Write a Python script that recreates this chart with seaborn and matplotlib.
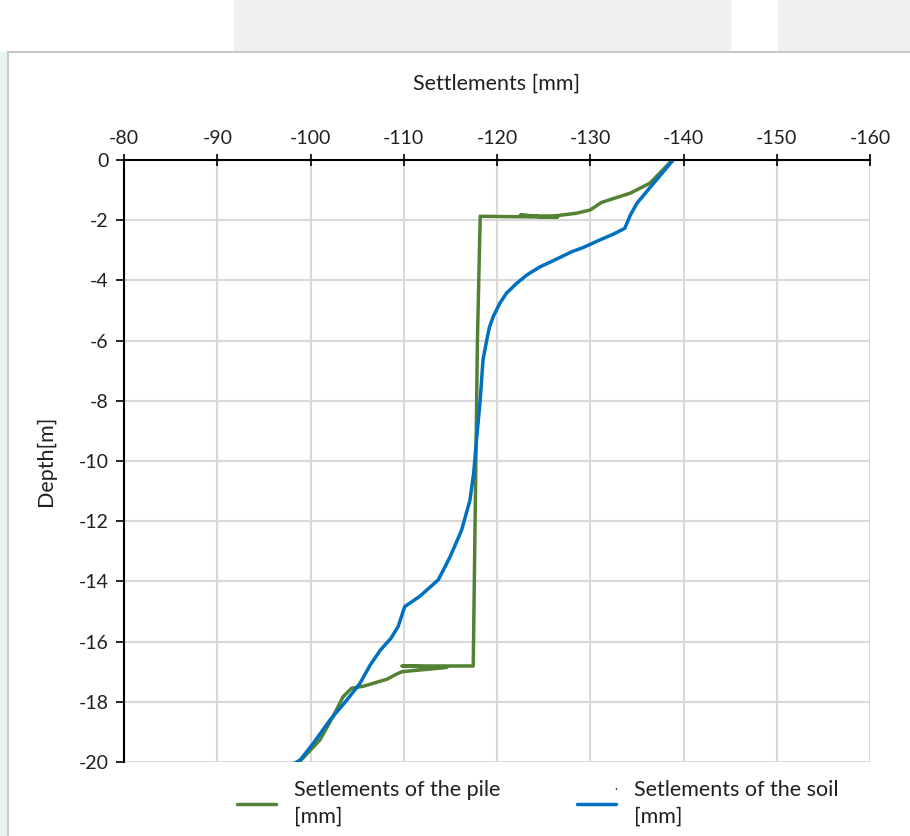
import numpy as np
import pandas as pd
import matplotlib
matplotlib.use("Agg")
import matplotlib.pyplot as plt
from matplotlib.patches import Rectangle
import seaborn as sns

# ---- data ----
pile_settlement = [-138.8, -136.4, -134.3, -131.2, -130.0, -128.5, -126.4, -124.6, -122.5,
                   -126.5, -118.2, -117.9, -117.45, -109.8, -114.6, -109.8, -109.1, -108.2,
                   -105.7, -104.4, -103.5, -102.4, -101.0, -99.2, -98.6]
pile_depth = [0.0, -0.77, -1.10, -1.41, -1.66, -1.77, -1.85, -1.88, -1.83,
              -1.90, -1.87, -6.0, -16.81, -16.81, -16.86, -17.0, -17.1, -17.25,
              -17.48, -17.55, -17.83, -18.5, -19.27, -19.87, -20.05]

soil_settlement = [-138.9, -136.8, -135.0, -134.3, -133.7, -132.5, -131.0, -129.3, -128.0,
                   -126.0, -124.6, -123.2, -122.1, -121.0, -120.3, -119.6, -119.2, -118.9,
                   -118.5, -118.2, -117.8, -117.5, -117.1, -116.2, -114.96, -113.7, -111.7,
                   -110.1, -109.4, -108.6, -107.5, -106.4, -105.3, -103.9, -102.1, -100.3,
                   -98.9, -98.3]
soil_depth = [0.0, -0.77, -1.44, -1.83, -2.27, -2.46, -2.66, -2.90, -3.05,
              -3.35, -3.55, -3.82, -4.10, -4.43, -4.76, -5.20, -5.54, -5.98,
              -6.64, -7.97, -9.30, -10.4, -11.3, -12.3, -13.19, -13.95, -14.5,
              -14.84, -15.5, -15.9, -16.28, -16.78, -17.39, -17.94, -18.6, -19.38,
              -19.93, -20.04]

x_ticks = [-80, -90, -100, -110, -120, -130, -140, -150, -160]
y_ticks = [0, -2, -4, -6, -8, -10, -12, -14, -16, -18, -20]
series_names = ["Setlements of the pile\n[mm]", "Setlements of the soil\n[mm]"]
series_colors = ["#548235", "#0070C0"]

df = pd.concat([
    pd.DataFrame({"s": pile_settlement, "d": pile_depth, "series": series_names[0]}),
    pd.DataFrame({"s": soil_settlement, "d": soil_depth, "series": series_names[1]}),
], ignore_index=True)

sns.set_theme(style="white")
plt.rcParams["font.family"] = ["Lato", "DejaVu Sans"]

fig = plt.figure(figsize=(9.10, 8.36), dpi=100)

# background screenshot hints
fig.patches.append(Rectangle((234/910, 1-52/836), (730-234)/910, 52/836,
                             transform=fig.transFigure, color="#f0f0f0", zorder=-3))
fig.patches.append(Rectangle((778/910, 1-52/836), (910-778)/910, 52/836,
                             transform=fig.transFigure, color="#f0f0f0", zorder=-3))
fig.patches.append(Rectangle((0, 0), 8/910, 1-52/836,
                             transform=fig.transFigure, color="#e8f4f2", zorder=-3))
fig.patches.append(Rectangle((8/910, -0.01), 1.0, 1-52/836+0.01,
                             transform=fig.transFigure, facecolor="white",
                             edgecolor="#c8c8c8", linewidth=1.5, zorder=-2))

ax = fig.add_axes([124/910, 1-762/836, (870-124)/910, (762-160)/836])
ax.set_zorder(2)
ax.set_facecolor("none")

sns.lineplot(data=df, x="s", y="d", hue="series", palette=series_colors,
             sort=False, estimator=None, linewidth=2.5, ax=ax, zorder=3)

ax.set_xlim(-80, -160)
ax.set_ylim(-20, 0)
ax.set_xticks(x_ticks)
ax.set_yticks(y_ticks)
ax.xaxis.tick_top()
ax.xaxis.set_label_position("top")
ax.set_xticklabels([str(v) for v in x_ticks])
ax.set_yticklabels([str(v) for v in y_ticks])
ax.tick_params(axis="x", which="both", direction="inout", length=9, width=1.2,
               colors="black", labelsize=14, pad=5, bottom=False, top=True)
ax.tick_params(axis="y", direction="out", length=6, width=1.2, colors="black",
               labelsize=14, pad=5, left=True)
for lab in ax.get_xticklabels() + ax.get_yticklabels():
    lab.set_color("#202020")

ax.grid(True, color="#d9d9d9", linewidth=1.5, zorder=0)
for side in ["right", "bottom"]:
    ax.spines[side].set_visible(False)
ax.spines["top"].set_color("black")
ax.spines["top"].set_linewidth(1.5)
ax.spines["left"].set_color("black")
ax.spines["left"].set_linewidth(1.5)
ax.spines["top"].set_zorder(4)

ax.set_xlabel("Settlements [mm]", fontsize=15.5, labelpad=29, color="#202020")
ax.set_ylabel("Depth[m]", fontsize=15.5, labelpad=16, color="#202020")

handles, labels = ax.get_legend_handles_labels()
leg = ax.legend(handles, labels, loc="upper left", bbox_to_anchor=(237/910, 1-780/836),
                bbox_transform=fig.transFigure, borderaxespad=0, borderpad=0,
                ncol=2, frameon=False, fontsize=15.5, handlelength=1.8,
                columnspacing=3.55, handletextpad=0.85, labelcolor="#202020")
for t in leg.get_texts():
    t.set_linespacing(1.4)

fig.text(614/910, 1-786/836, ".", fontsize=9, color="#202020", ha="left", va="center")

fig.savefig("out.png", dpi=100, facecolor="white")
